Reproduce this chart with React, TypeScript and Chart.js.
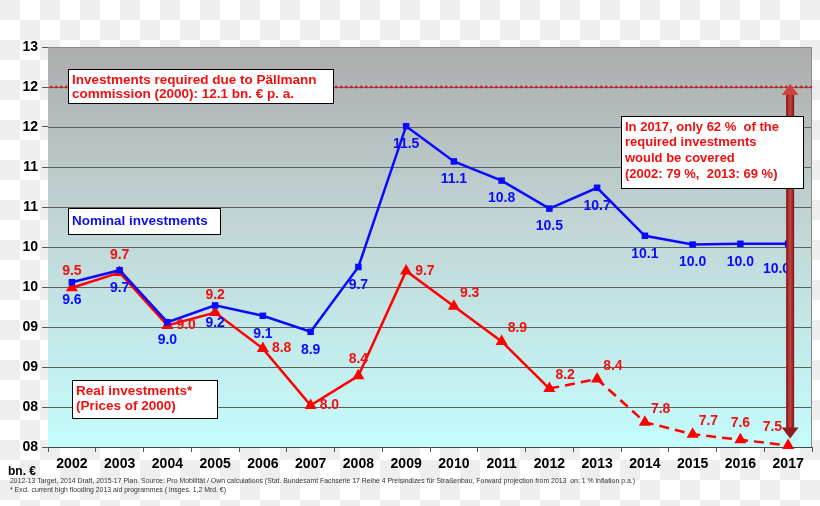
import React, { useEffect, useRef } from "react";
import { Chart, registerables } from "chart.js";

Chart.register(...registerables);

// ---------- data ----------
const years = ["2002", "2003", "2004", "2005", "2006", "2007", "2008", "2009", "2010", "2011", "2012", "2013", "2014", "2015", "2016", "2017"];
// plotted positions on the (oddly labelled) value axis
const nominalValues = [10.06, 10.21, 9.56, 9.77, 9.64, 9.44, 10.25, 12.01, 11.57, 11.33, 10.98, 11.24, 10.64, 10.53, 10.54, 10.54];
const nominalLabels = ["9.6", "9.7", "9.0", "9.2", "9.1", "8.9", "9.7", "11.5", "11.1", "10.8", "10.5", "10.7", "10.1", "10.0", "10.0", "10.0"];
const realValues = [9.99, 10.18, 9.52, 9.68, 9.23, 8.52, 8.89, 10.2, 9.76, 9.32, 8.73, 8.85, 8.31, 8.16, 8.09, 8.02];
const realLabels = ["9.5", "9.7", "9.0", "9.2", "8.8", "8.0", "8.4", "9.7", "9.3", "8.9", "8.2", "8.4", "7.8", "7.7", "7.6", "7.5"];
const yTickLabels = ["08", "08", "09", "09", "10", "10", "11", "11", "12", "12", "13"];
const requiredLevel = 12.5;
const forecastFromIndex = 10; // 2012 onwards dashed

const nominalAnchors = ["below", "below", "below", "below", "below", "below", "below", "below", "below", "below", "below", "below", "below", "below", "below", "belowLeft"];
const realAnchors = ["above", "above", "right", "above", "right", "right", "above", "right", "aboveRight", "aboveRight", "aboveRight", "aboveRight", "aboveRight", "aboveRight", "above", "aboveLeft"];

const requiredNote = ["Investments required due to Pällmann", "commission (2000): 12.1 bn. € p. a."];
const coverageNote = ["In 2017, only 62 %  of the", "required investments", "would be covered", "(2002: 79 %,  2013: 69 %)"];
const nominalName = ["Nominal investments"];
const realName = ["Real investments*", "(Prices of 2000)"];
const unitLabel = "bn. €";
const footnotes = [
  "2012-13 Target, 2014 Draft, 2015-17 Plan. Source: Pro Mobilität / Own calculations (Stat. Bundesamt Fachserie 17 Reihe 4 Preisindizes für Straßenbau, Forward projection from 2013  on: 1 % inflation p.a.)",
  "* Excl. current high flooding 2013 aid programmes ( insges. 1,2 Mrd. €)",
];

const FONT = '"Liberation Sans", Arial, sans-serif';
const BLUE = "#0a0aff";
const RED = "#ff0000";
const LABEL_RED = "#f01010";

function drawBox(ctx: CanvasRenderingContext2D, x: number, y: number, w: number, h: number, lines: string[], color: string, size: number, lineH: number, firstY: number) {
  ctx.save();
  ctx.fillStyle = "#ffffff";
  ctx.fillRect(x, y, w, h);
  ctx.strokeStyle = "#000";
  ctx.lineWidth = 1;
  ctx.strokeRect(x + 0.5, y + 0.5, w, h);
  ctx.fillStyle = color;
  ctx.font = `bold ${size}px ${FONT}`;
  ctx.textAlign = "left";
  ctx.textBaseline = "middle";
  lines.forEach((l, i) => ctx.fillText(l, x + 4, firstY + i * lineH, w - 6));
  ctx.restore();
}

const decorPlugin = {
  id: "decor",
  beforeDatasetsDraw(chart: any) {
    const { ctx, chartArea: a } = chart;
    ctx.save();
    const g = ctx.createLinearGradient(0, a.top, 0, a.bottom);
    g.addColorStop(0, "#acacac");
    g.addColorStop(0.45, "#c2d6d6");
    g.addColorStop(1, "#c4fcfc");
    ctx.fillStyle = g;
    ctx.fillRect(a.left, a.top, a.right - a.left, a.bottom - a.top);
    // grid lines
    const ys = chart.scales.y;
    ctx.strokeStyle = "#5a6060";
    ctx.lineWidth = 1;
    for (let v = 8.5; v < 13; v += 0.5) {
      const y = Math.round(ys.getPixelForValue(v)) + 0.5;
      ctx.beginPath();
      ctx.moveTo(a.left, y);
      ctx.lineTo(a.right, y);
      ctx.stroke();
    }
    // frame
    ctx.strokeStyle = "#8a8a8a";
    ctx.beginPath();
    ctx.moveTo(a.left, a.top + 0.5);
    ctx.lineTo(a.right - 0.5, a.top + 0.5);
    ctx.lineTo(a.right - 0.5, a.bottom);
    ctx.stroke();
    // required level dotted line
    const ry = ys.getPixelForValue(requiredLevel);
    ctx.strokeStyle = "#e01818";
    ctx.lineWidth = 2.5;
    ctx.setLineDash([2.5, 2.5]);
    ctx.beginPath();
    ctx.moveTo(a.left + 2, ry);
    ctx.lineTo(a.right, ry);
    ctx.stroke();
    ctx.restore();
  },
  afterDatasetsDraw(chart: any) {
    const { ctx, chartArea: a } = chart;
    const xs = chart.scales.x;
    const ys = chart.scales.y;
    ctx.save();
    // data labels
    ctx.font = `bold 14px ${FONT}`;
    ctx.textBaseline = "middle";
    const place = (pt: any, text: string, anchor: string, color: string) => {
      ctx.fillStyle = color;
      let x = pt.x, y = pt.y;
      ctx.textAlign = "center";
      if (anchor === "below") { y += 18; }
      else if (anchor === "belowLeft") { ctx.textAlign = "right"; x += 2; y += 25; }
      else if (anchor === "above") { y -= 17; }
      else if (anchor === "right") { ctx.textAlign = "left"; x += 9; }
      else if (anchor === "aboveRight") { ctx.textAlign = "left"; x += 6; y -= 13; }
      else if (anchor === "aboveLeft") { ctx.textAlign = "right"; x -= 6; y -= 18; }
      ctx.fillText(text, x, y);
    };
    chart.getDatasetMeta(0).data.forEach((pt: any, i: number) => place(pt, nominalLabels[i], nominalAnchors[i], BLUE));
    chart.getDatasetMeta(1).data.forEach((pt: any, i: number) => place(pt, realLabels[i], realAnchors[i], LABEL_RED));

    // double arrow at the last year
    const last = chart.getDatasetMeta(1).data[years.length - 1];
    const ax = xs.getPixelForValue(years.length - 1) + 2;
    const yTop = ys.getPixelForValue(requiredLevel) - 3;
    const yBot = last.y - 7;
    const headH = 11, headW = 17, shaftW = 8;
    const sg = ctx.createLinearGradient(ax - shaftW / 2, 0, ax + shaftW / 2, 0);
    sg.addColorStop(0, "#7a1414");
    sg.addColorStop(0.5, "#c84444");
    sg.addColorStop(1, "#7a1414");
    ctx.fillStyle = sg;
    ctx.fillRect(ax - shaftW / 2, yTop + headH - 1, shaftW, yBot - yTop - 2 * headH + 2);
    ctx.fillStyle = "#d24040";
    ctx.beginPath();
    ctx.moveTo(ax, yTop);
    ctx.lineTo(ax + headW / 2, yTop + headH);
    ctx.lineTo(ax - headW / 2, yTop + headH);
    ctx.closePath();
    ctx.fill();
    ctx.fillStyle = "#8e1c1c";
    ctx.beginPath();
    ctx.moveTo(ax, yBot);
    ctx.lineTo(ax + headW / 2, yBot - headH);
    ctx.lineTo(ax - headW / 2, yBot - headH);
    ctx.closePath();
    ctx.fill();

    // annotation boxes
    drawBox(ctx, a.left + 20, 69, 265, 34, requiredNote, "#f01010", 13.5, 14.5, 80);
    drawBox(ctx, 621, 116, 182, 72, coverageNote, "#f01010", 13, 15.7, 127);
    drawBox(ctx, a.left + 20, 208, 152, 26, nominalName, "#1010e8", 13.5, 15, 221);
    drawBox(ctx, 72, 380, 145, 38, realName, "#f01010", 13.5, 15, 391);

    // unit + footnotes
    ctx.fillStyle = "#000";
    ctx.font = `bold 12px ${FONT}`;
    ctx.textAlign = "left";
    ctx.textBaseline = "middle";
    ctx.fillText(unitLabel, 8, 472);
    ctx.fillStyle = "#333";
    ctx.font = `7.5px ${FONT}`;
    ctx.fillText(footnotes[0], 10, 481, 625);
    ctx.fillText(footnotes[1], 10, 490, 216);
    ctx.restore();
  },
};

export default function App() {
  const ref = useRef<HTMLCanvasElement>(null);
  useEffect(() => {
    if (!ref.current) return;
    const chart = new Chart(ref.current, {
      type: "line",
      data: {
        labels: years,
        datasets: [
          {
            label: "Nominal investments",
            data: nominalValues,
            borderColor: BLUE,
            backgroundColor: BLUE,
            borderWidth: 2.5,
            pointStyle: "rect",
            pointRadius: 4.6,
            pointBorderWidth: 0,
            tension: 0,
            clip: false as any,
          },
          {
            label: "Real investments",
            data: realValues,
            borderColor: RED,
            backgroundColor: RED,
            borderWidth: 2.5,
            pointStyle: "triangle",
            pointRadius: 7,
            pointBorderWidth: 0,
            tension: 0,
            clip: false as any,
            segment: {
              borderDash: (c: any) => (c.p0DataIndex >= forecastFromIndex ? [10, 6] : undefined),
            },
          },
        ],
      },
      options: {
        animation: false,
        responsive: false,
        maintainAspectRatio: false,
        layout: { padding: { top: 47, right: 8, left: 0, bottom: 0 } },
        plugins: { legend: { display: false }, tooltip: { enabled: false } },
        scales: {
          x: {
            offset: true,
            grid: { offset: true, drawOnChartArea: false, drawTicks: true, tickLength: 5, color: "#555" },
            border: { color: "#444", width: 1 },
            ticks: { color: "#000", font: { family: FONT, size: 14, weight: "bold" }, padding: 4, maxRotation: 0, autoSkip: false },
            afterFit: (s: any) => { s.height = 59; },
          },
          y: {
            min: 8,
            max: 13,
            ticks: {
              stepSize: 0.5,
              color: "#000",
              font: { family: FONT, size: 14, weight: "bold" },
              padding: 4,
              callback: (_v: any, i: number) => yTickLabels[i],
            },
            grid: { drawOnChartArea: false, drawTicks: true, tickLength: 6, color: "#555" },
            border: { color: "#444", width: 1 },
            afterFit: (s: any) => { s.width = 48; },
          },
        },
      } as any,
      plugins: [decorPlugin],
    });
    return () => chart.destroy();
  }, []);
  return (
    <div
      style={{
        position: "absolute",
        left: 0,
        top: 0,
        width: 820,
        height: 506,
        backgroundImage: "conic-gradient(#ffffff 25%, #eeeeee 0 50%, #ffffff 0 75%, #eeeeee 0)",
        backgroundSize: "40px 40px",
      }}
    >
      <canvas ref={ref} width={820} height={506} style={{ display: "block" }} />
    </div>
  );
}
